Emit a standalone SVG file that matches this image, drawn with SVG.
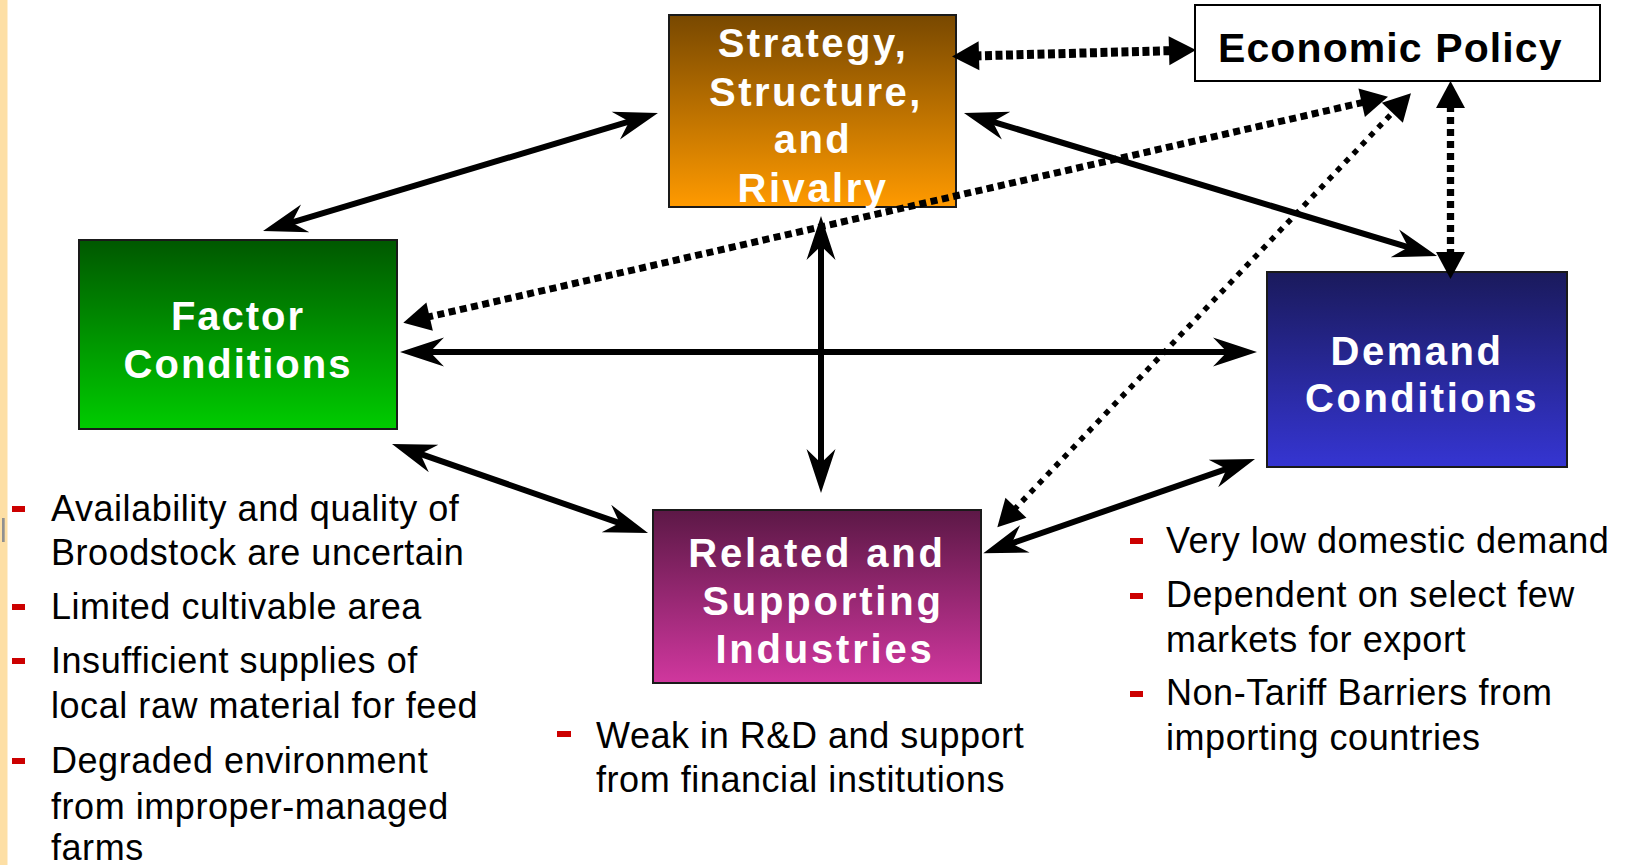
<svg xmlns="http://www.w3.org/2000/svg" width="1634" height="865" viewBox="0 0 1634 865">
<defs>
<linearGradient id="gStrat" x1="0" y1="0" x2="0" y2="1"><stop offset="0" stop-color="#784800"/><stop offset="1" stop-color="#FF9A00"/></linearGradient>
<linearGradient id="gFactor" x1="0" y1="0" x2="0" y2="1"><stop offset="0" stop-color="#005800"/><stop offset="1" stop-color="#00CC00"/></linearGradient>
<linearGradient id="gDemand" x1="0" y1="0" x2="0" y2="1"><stop offset="0" stop-color="#1A1A5C"/><stop offset="1" stop-color="#3535D2"/></linearGradient>
<linearGradient id="gRel" x1="0" y1="0" x2="0" y2="1"><stop offset="0" stop-color="#5C1846"/><stop offset="1" stop-color="#D0379E"/></linearGradient>
<marker id="sE" markerUnits="userSpaceOnUse" orient="auto" refX="0" refY="0" markerWidth="1" markerHeight="1" overflow="visible"><path d="M20,0 L-24,-14.5 L-10,0 L-24,14.5 Z" fill="#000"/></marker>
<marker id="sS" markerUnits="userSpaceOnUse" orient="auto" refX="0" refY="0" markerWidth="1" markerHeight="1" overflow="visible"><path d="M-20,0 L24,-14.5 L10,0 L24,14.5 Z" fill="#000"/></marker>
<marker id="dE" markerUnits="userSpaceOnUse" orient="auto" refX="0" refY="0" markerWidth="1" markerHeight="1" overflow="visible"><path d="M12,0 L-15,-14.5 L-15,14.5 Z" fill="#000"/></marker>
<marker id="dS" markerUnits="userSpaceOnUse" orient="auto" refX="0" refY="0" markerWidth="1" markerHeight="1" overflow="visible"><path d="M-12,0 L15,-14.5 L15,14.5 Z" fill="#000"/></marker>
<style>
.box{stroke:#1a1a1a;stroke-width:2}
.lbl{font-family:"Liberation Sans",Arial,sans-serif;font-weight:bold;font-size:40px;fill:#fff;text-anchor:middle;letter-spacing:2.5px}
.body{font-family:"Liberation Sans",Arial,sans-serif;font-size:36px;fill:#000;letter-spacing:0.55px}
.dash{fill:#CC0000}
.solid{fill:none;stroke:#000;stroke-width:6;marker-start:url(#sS);marker-end:url(#sE)}
.dot{fill:none;stroke:#000;marker-start:url(#dS);marker-end:url(#dE)}
</style>
</defs>
<rect x="0" y="0" width="1634" height="865" fill="#fff"/>
<rect x="0" y="0" width="7.5" height="865" fill="#FDDFA5"/>
<rect x="2" y="518" width="2.7" height="24" fill="#909090"/>

<g id="strategy">
<rect class="box" x="669" y="15" width="287" height="192" fill="url(#gStrat)"/>
<text class="lbl" x="813" y="57">Strategy,</text>
<text class="lbl" x="816" y="106">Structure,</text>
<text class="lbl" x="813" y="153">and</text>
<text class="lbl" x="813" y="202">Rivalry</text>
</g>
<g id="economic-policy">
<rect x="1195" y="5" width="405" height="76" fill="#fff" stroke="#000" stroke-width="2"/>
<text x="1218" y="62" font-family="Liberation Sans, Arial, sans-serif" font-weight="bold" font-size="41" letter-spacing="1.1" fill="#000">Economic Policy</text>
</g>
<g id="factor">
<rect class="box" x="79" y="240" width="318" height="189" fill="url(#gFactor)"/>
<text class="lbl" x="238" y="330" style="letter-spacing:2px">Factor</text>
<text class="lbl" x="238" y="378" style="letter-spacing:2px">Conditions</text>
</g>
<g id="demand">
<rect class="box" x="1267" y="272" width="300" height="195" fill="url(#gDemand)"/>
<text class="lbl" x="1417" y="365">Demand</text>
<text class="lbl" x="1422" y="412">Conditions</text>
</g>
<g id="related">
<rect class="box" x="653" y="510" width="328" height="173" fill="url(#gRel)"/>
<text class="lbl" x="817" y="567" style="letter-spacing:2.8px">Related and</text>
<text class="lbl" x="823" y="615" style="letter-spacing:2.8px">Supporting</text>
<text class="lbl" x="825" y="663" style="letter-spacing:2.8px">Industries</text>
</g>

<g id="connectors">
<path class="solid" d="M282.2,225.3 L638.8,118.7"/>
<path class="solid" d="M983.1,118.8 L1417.9,250.2"/>
<path class="solid" d="M821,236 L821,473"/>
<path class="solid" d="M420,352 L1237,352"/>
<path class="solid" d="M410.9,450.6 L629.1,526.4"/>
<path class="solid" d="M1002.2,546.7 L1236.1,465.6"/>
<path class="dot" d="M964,56.2 L1184,50.3" stroke-width="9" stroke-dasharray="7 3.5"/>
<path class="dot" d="M415,320 L1376.3,99.4" stroke-width="7" stroke-dasharray="7 4.5"/>
<path class="dot" d="M1005.6,518.6 L1402.7,102" stroke-width="5.5" stroke-dasharray="5.5 6.5"/>
<path class="dot" d="M1450.5,93 L1450.5,267" stroke-width="7.3" stroke-dasharray="7 5"/>
</g>

<g id="factor-notes">
<rect class="dash" x="12" y="506" width="13" height="6"/>
<text class="body" x="51" y="521">Availability and quality of</text>
<text class="body" x="51" y="565">Broodstock are uncertain</text>
<rect class="dash" x="12" y="604" width="13" height="6"/>
<text class="body" x="51" y="619">Limited cultivable area</text>
<rect class="dash" x="12" y="658" width="13" height="6"/>
<text class="body" x="51" y="673">Insufficient supplies of</text>
<text class="body" x="51" y="718">local raw material for feed</text>
<rect class="dash" x="12" y="758" width="13" height="6"/>
<text class="body" x="51" y="773">Degraded environment</text>
<text class="body" x="51" y="819">from improper-managed</text>
<text class="body" x="51" y="860">farms</text>
</g>
<g id="related-notes">
<rect class="dash" x="557" y="731" width="14" height="6"/>
<text class="body" x="596" y="748">Weak in R&amp;D and support</text>
<text class="body" x="596" y="792">from financial institutions</text>
</g>
<g id="demand-notes">
<rect class="dash" x="1130" y="538" width="13" height="6"/>
<text class="body" x="1166" y="553">Very low domestic demand</text>
<rect class="dash" x="1130" y="593" width="13" height="6"/>
<text class="body" x="1166" y="607">Dependent on select few</text>
<text class="body" x="1166" y="652">markets for export</text>
<rect class="dash" x="1130" y="691" width="13" height="6"/>
<text class="body" x="1166" y="705">Non-Tariff Barriers from</text>
<text class="body" x="1166" y="750">importing countries</text>
</g>
</svg>
